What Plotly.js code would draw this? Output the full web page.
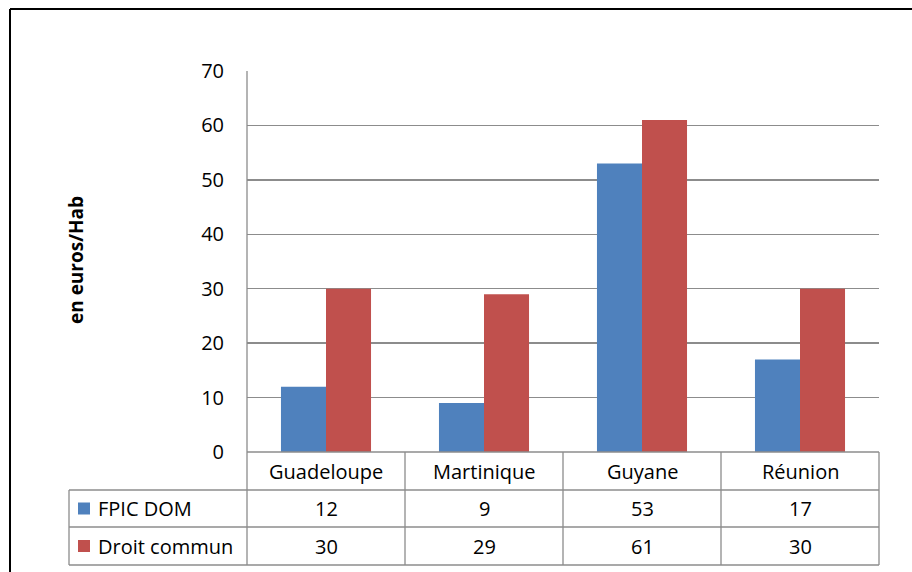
<!DOCTYPE html>
<html>
<head>
<meta charset="utf-8">
<script src="https://cdn.plot.ly/plotly-3.0.1.min.js"></script>
<style>
html,body{margin:0;padding:0;background:#fff;}
#chart{width:912px;height:572px;}
</style>
</head>
<body>
<div id="chart"></div>
<script>
var categories = ["Guadeloupe", "Martinique", "Guyane", "Réunion"];
var seriesNames = ["FPIC DOM", "Droit commun"];
var fpicDom = [12, 9, 53, 17];
var droitCommun = [30, 29, 61, 30];
var yTicks = [0, 10, 20, 30, 40, 50, 60, 70];
var yTitle = "en euros/Hab";

var colors = ["#4F81BD", "#C0504D"];
var seriesValues = [fpicDom, droitCommun];

var W = 912, H = 572;
var L = 247, R = 879, T = 71, B = 452;
var pw = R - L, ph = B - T;
function px(x) { return (x - L) / pw; }
function py(y) { return (B - y) / ph; }

var font = "'Open Sans', 'Noto Sans', sans-serif";
var gridCol = "#8c8c8c";
var fs = 20;

var traces = seriesValues.map(function (vals, i) {
  return {
    type: "bar",
    name: seriesNames[i],
    x: categories,
    y: vals,
    marker: { color: colors[i], line: { width: 0 } },
    hoverinfo: "x+y+name"
  };
});

var shapes = [];
var annotations = [];
function line(x0, y0, x1, y1, col, w) {
  shapes.push({ type: "line", xref: "paper", yref: "paper",
    x0: px(x0), y0: py(y0), x1: px(x1), y1: py(y1),
    line: { color: col, width: w } });
}

// outer frame (top and left)
line(10, 9, 912, 9, "#000", 2);
line(10, 9, 10, 572, "#000", 2);

// table lines
var tableLeft = 69;
var rowY = [452, 490, 527, 565];
line(L, 452, R, 452, gridCol, 1.3);
line(tableLeft, 490, R, 490, gridCol, 1.3);
line(tableLeft, 527, R, 527, gridCol, 1.3);
line(tableLeft, 565, R, 565, gridCol, 1.3);
line(tableLeft, 490, tableLeft, 565, gridCol, 1.3);
line(L, T, L, 565, gridCol, 1.3);
line(R, 452, R, 565, gridCol, 1.3);
var catW = pw / categories.length;
for (var c = 1; c < categories.length; c++) {
  line(L + c * catW, 452, L + c * catW, 565, gridCol, 1.3);
}

// category header row
categories.forEach(function (cat, i) {
  annotations.push({ xref: "x", yref: "paper", x: cat, y: py(471),
    text: cat, showarrow: false, xanchor: "center", yanchor: "middle",
    font: { family: font, size: fs, color: "#000" } });
});

// data rows
seriesValues.forEach(function (vals, s) {
  var cy = (rowY[s + 1] + rowY[s + 2]) / 2;
  // legend key
  shapes.push({ type: "rect", xref: "paper", yref: "paper",
    x0: px(78), x1: px(90), y0: py(cy - 6), y1: py(cy + 6),
    fillcolor: colors[s], line: { width: 0 } });
  annotations.push({ xref: "paper", yref: "paper", x: px(96), y: py(cy),
    text: seriesNames[s], showarrow: false, xanchor: "left", yanchor: "middle",
    font: { family: font, size: fs, color: "#000" } });
  vals.forEach(function (v, i) {
    annotations.push({ xref: "x", yref: "paper", x: categories[i], y: py(cy),
      text: String(v), showarrow: false, xanchor: "center", yanchor: "middle",
      font: { family: font, size: fs, color: "#000" } });
  });
});

// y-axis title
annotations.push({ xref: "paper", yref: "paper", x: px(76), y: py(260),
  text: "<b>" + yTitle + "</b>", showarrow: false, textangle: -90,
  xanchor: "center", yanchor: "middle",
  font: { family: font, size: 19, color: "#000" } });

var layout = {
  width: W, height: H,
  margin: { l: L, r: W - R, t: T, b: H - B, pad: 0 },
  paper_bgcolor: "#fff", plot_bgcolor: "#fff",
  barmode: "group", bargap: 0.43, bargroupgap: 0,
  showlegend: false,
  xaxis: { type: "category", showticklabels: false, showgrid: false,
    zeroline: false, showline: false, ticks: "", fixedrange: true },
  yaxis: { range: [0, 70], tickvals: yTicks, ticktext: yTicks.map(String),
    showgrid: true, gridcolor: gridCol, gridwidth: 1.3, zeroline: false,
    showline: false, ticks: "", ticklabelstandoff: 22,
    tickfont: { family: font, size: fs, color: "#000" }, fixedrange: true },
  shapes: shapes,
  annotations: annotations
};

Plotly.newPlot("chart", traces, layout, { displayModeBar: false, staticPlot: true });
</script>
</body>
</html>
